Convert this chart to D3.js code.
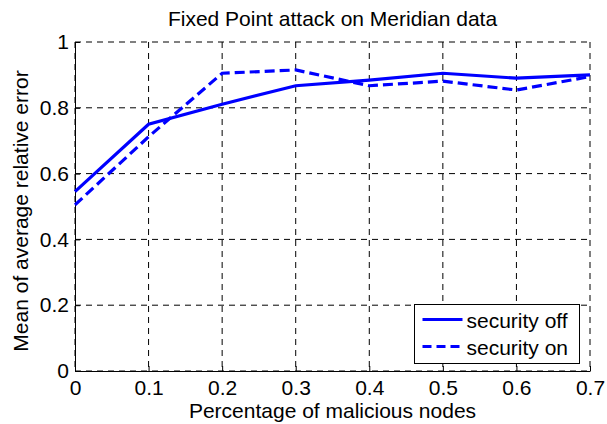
<!DOCTYPE html>
<html>
<head>
<meta charset="utf-8">
<script src="https://cdn.jsdelivr.net/npm/d3@7"></script>
<style>
  html, body { margin: 0; padding: 0; background: #fff; }
  svg { display: block; }
  text { font-family: "Liberation Sans", Arial, Helvetica, sans-serif; fill: #000; }
</style>
</head>
<body>
<script>
// Fraction of malicious nodes on the x axis
const malicious = [0, 0.1, 0.2, 0.3, 0.4, 0.5, 0.6, 0.7];
// Mean of average relative error for each setting
const securityOff = [0.545, 0.750, 0.811, 0.867, 0.884, 0.905, 0.890, 0.900];
const securityOn  = [0.505, 0.712, 0.905, 0.915, 0.867, 0.881, 0.854, 0.895];
const seriesNames = ["security off", "security on"];
const xTicks = [0, 0.1, 0.2, 0.3, 0.4, 0.5, 0.6, 0.7];
const yTicks = [0, 0.2, 0.4, 0.6, 0.8, 1];

const W = 607, H = 424;
const FS = 21;
const margin = { left: 75, right: 17, top: 42, bottom: 53 };
const iw = W - margin.left - margin.right;
const ih = H - margin.top - margin.bottom;

const svg = d3.select("body").append("svg").attr("width", W).attr("height", H);
const g = svg.append("g").attr("transform", `translate(${margin.left},${margin.top})`);

const x = d3.scaleLinear().domain([0, 0.7]).range([0, iw]);
const y = d3.scaleLinear().domain([0, 1]).range([ih, 0]);

// Dashed grid
const grid = g.append("g").attr("stroke", "#000").attr("stroke-width", 1).attr("stroke-dasharray", "6,5");
grid.selectAll(".gx").data(xTicks).join("line")
  .attr("x1", d => x(d)).attr("x2", d => x(d)).attr("y1", 0).attr("y2", ih);
grid.selectAll(".gy").data(yTicks).join("line")
  .attr("x1", 0).attr("x2", iw).attr("y1", d => y(d)).attr("y2", d => y(d));

// Axes with inward ticks
const fmt = d => d === 0 ? "0" : d === 1 ? "1" : d3.format(".1f")(d);
const xAxis = g.append("g").attr("transform", `translate(0,${ih})`)
  .call(d3.axisBottom(x).tickValues(xTicks).tickFormat(fmt).tickSizeInner(-5).tickSizeOuter(0).tickPadding(9));
const yAxis = g.append("g")
  .call(d3.axisLeft(y).tickValues(yTicks).tickFormat(fmt).tickSizeInner(-5).tickSizeOuter(0).tickPadding(6));
[xAxis, yAxis].forEach(a => {
  a.attr("font-size", FS).attr("font-family", null);
  a.select(".domain").attr("stroke", "#000").attr("stroke-width", 1);
  a.selectAll(".tick line").attr("stroke", "#000");
  a.selectAll(".tick text").attr("font-size", FS).attr("fill", "#000");
});
xAxis.selectAll(".tick text").attr("dy", "0.7em");

// Series
const line = d3.line().x((d, i) => x(malicious[i])).y(d => y(d));
g.append("path").datum(securityOff).attr("d", line)
  .attr("fill", "none").attr("stroke", "#0000ff").attr("stroke-width", 3.2);
g.append("path").datum(securityOn).attr("d", line)
  .attr("fill", "none").attr("stroke", "#0000ff").attr("stroke-width", 3.2)
  .attr("stroke-dasharray", "10,5");

// Title and axis labels
svg.append("text").attr("x", margin.left + iw / 2).attr("y", 26)
  .attr("text-anchor", "middle").attr("font-size", FS)
  .text("Fixed Point attack on Meridian data");
svg.append("text").attr("x", margin.left + iw / 2).attr("y", 418)
  .attr("text-anchor", "middle").attr("font-size", FS)
  .text("Percentage of malicious nodes");
svg.append("text").attr("transform", "translate(28,211) rotate(-90)")
  .attr("text-anchor", "middle").attr("font-size", FS)
  .text("Mean of average relative error");

// Legend
const lg = svg.append("g").attr("transform", "translate(414.5,304.5)");
lg.append("rect").attr("width", 165).attr("height", 59)
  .attr("fill", "#fff").attr("stroke", "#000").attr("stroke-width", 1);
seriesNames.forEach((name, i) => {
  const yy = 15 + i * 27;
  lg.append("line").attr("x1", 8).attr("x2", 48).attr("y1", yy).attr("y2", yy)
    .attr("stroke", "#0000ff").attr("stroke-width", 3.2)
    .attr("stroke-dasharray", i === 1 ? "9,5" : null);
  lg.append("text").attr("x", 52).attr("y", yy + 8).attr("font-size", FS).text(name);
});
</script>
</body>
</html>
